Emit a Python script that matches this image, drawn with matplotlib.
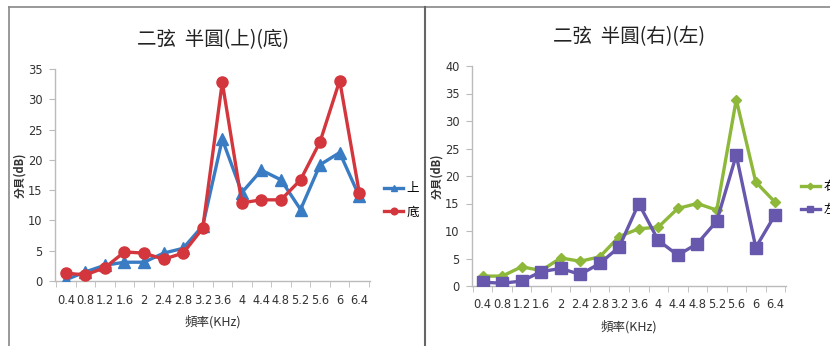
import matplotlib
matplotlib.use("Agg")
import matplotlib.pyplot as plt
from matplotlib.lines import Line2D

plt.rcParams['font.family'] = ['Noto Sans CJK TC', 'DejaVu Sans']

freqs = ["0.4", "0.8", "1.2", "1.6", "2", "2.4", "2.8", "3.2", "3.6", "4",
         "4.4", "4.8", "5.2", "5.6", "6", "6.4"]

top_vals = [0.2, 1.5, 2.6, 3.1, 3.1, 4.6, 5.4, 9.1, 23.4, 14.6,
            18.3, 16.7, 11.8, 19.2, 21.2, 14.0]
bottom_vals = [1.3, 1.0, 2.2, 4.8, 4.6, 3.6, 4.6, 8.7, 32.8, 12.9,
               13.4, 13.4, 16.7, 23.0, 33.1, 14.6]

right_vals = [1.8, 1.8, 3.5, 2.8, 5.1, 4.5, 5.3, 9.0, 10.4, 10.7,
              14.1, 15.0, 13.8, 33.9, 18.9, 15.2]
left_vals = [0.7, 0.5, 0.9, 2.6, 3.2, 2.1, 4.1, 7.1, 15.0, 8.3,
             5.6, 7.7, 11.8, 23.8, 7.0, 13.0]

W, H = 830, 346
fig = plt.figure(figsize=(W / 100, H / 100), dpi=100)

tick_kw = dict(family=['DejaVu Sans'], fontstretch='condensed', fontsize=9.2, color='#333333')


def frac(x0, x1, ytop, ybot):
    return [x0 / W, 1 - ybot / H, (x1 - x0) / W, (ybot - ytop) / H]


def style(ax, ymax, step, ylab_x):
    x = list(range(len(freqs)))
    ax.set_xlim(-0.55, len(freqs) - 0.45)
    ax.set_ylim(0, ymax)
    ax.set_xticks(x)
    ax.set_xticklabels(freqs, **tick_kw)
    ax.set_xticks([i - 0.5 for i in range(len(freqs) + 1)], minor=True)
    ax.tick_params(axis='x', which='major', length=0, pad=9)
    ax.tick_params(axis='x', which='minor', length=4, color='#bbbbbb', direction='out')
    ax.set_yticks(range(0, ymax + 1, step))
    ax.set_yticklabels([str(v) for v in range(0, ymax + 1, step)], **tick_kw)
    ax.tick_params(axis='y', length=4, color='#bbbbbb', direction='out', pad=5)
    for s in ['top', 'right']:
        ax.spines[s].set_visible(False)
    for s in ['left', 'bottom']:
        ax.spines[s].set_color('#bbbbbb')
        ax.spines[s].set_linewidth(1.0)
    ax.set_xlabel('頻率(KHz)', fontsize=9, color='#333333', labelpad=6)
    ax.set_ylabel('分貝(dB)', fontsize=8, color='#333333', fontweight='bold')
    ax.yaxis.set_label_coords(ylab_x, 0.5)


x = list(range(len(freqs)))

# Left chart
ax1 = fig.add_axes(frac(55, 370, 69, 281))
ax1.plot(x, top_vals, color='#3A7CC3', lw=2.4, marker='^', ms=8, label='上', zorder=3)
ax1.plot(x, bottom_vals, color='#D3363C', lw=2.4, marker='o', ms=8, label='底', zorder=3)
style(ax1, 35, 5, -0.09)
ax1.set_title('二弦  半圓(上)(底)', fontsize=14, color='#222222', pad=17)
ax1.legend(loc='center left', bbox_to_anchor=(1.045, 0.38), frameon=False,
           borderpad=0, borderaxespad=0,
           handlelength=1.5, fontsize=9, labelspacing=0.8, handletextpad=0.3,
           markerscale=0.6)

# Right chart
ax2 = fig.add_axes(frac(472, 786, 66, 286))
ax2.plot(x, right_vals, color='#8DB83A', lw=2.4, marker='D', ms=5.5, label='右', zorder=3)
ax2.plot(x, left_vals, color='#6757AD', lw=2.4, marker='s', ms=8, label='左', zorder=3)
style(ax2, 40, 5, -0.092)
ax2.set_title('二弦  半圓(右)(左)', fontsize=14, color='#222222', pad=17)
ax2.legend(loc='center left', bbox_to_anchor=(1.048, 0.40), frameon=False,
           borderpad=0, borderaxespad=0,
           handlelength=1.5, fontsize=9, labelspacing=0.8, handletextpad=0.3,
           markerscale=0.6)

# panel borders
bc = '#888888'
fig.add_artist(Line2D([9 / W, 1], [1 - 7 / H, 1 - 7 / H], color=bc, lw=1.2))
fig.add_artist(Line2D([9 / W, 9 / W], [0, 1 - 7 / H], color=bc, lw=1.2))
fig.add_artist(Line2D([425 / W, 425 / W], [0, 1 - 7 / H], color='#666666', lw=1.5))

fig.savefig('out.png', dpi=100)
